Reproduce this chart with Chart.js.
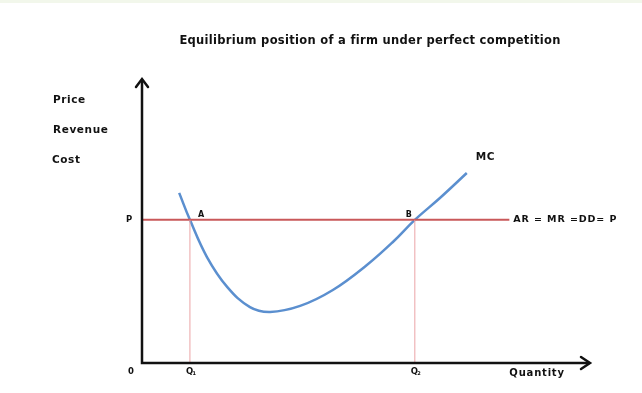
<!DOCTYPE html>
<html>
<head>
<meta charset="utf-8">
<script src="https://cdn.jsdelivr.net/npm/chart.js@4.4.1/dist/chart.umd.min.js"></script>
<style>
  html, body { margin: 0; padding: 0; background: #fff; }
  #wrap { width: 642px; height: 393px; }
</style>
</head>
<body>
<div id="wrap"><canvas id="chart" width="642" height="393"></canvas></div>
<script>
// values (quantity 0..100, price 0..100)
const mcQuantity = [8.3, 10.7, 14.5, 19.0, 24.1, 28.6, 35.3, 42.6, 50.2, 56.0, 60.9, 66.5, 72.5];
const mcCost = [59.9, 50.4, 37.3, 26.8, 19.7, 18.0, 20.1, 25.7, 34.5, 42.6, 50.4, 58.1, 66.9];
const priceLevel = 50.4;
const priceLineEnd = 82;
const q1 = 10.7;
const q2 = 60.9;
const axisMax = [100, 100];

const titleText = 'Equilibrium position of a firm under perfect competition';
const yLabels = ['Price', 'Revenue', 'Cost'];
const priceLabel = 'AR = MR =DD= P';

const mcPoints = mcQuantity.map((q, i) => ({x: q, y: mcCost[i]}));

const FONT = '"DejaVu Sans", "Liberation Sans", sans-serif';

const annotate = {
    id: 'annotate',
    beforeDraw(chart) {
        const ctx = chart.ctx;
        ctx.save();
        ctx.fillStyle = '#ffffff';
        ctx.fillRect(0, 0, chart.width, chart.height);
        ctx.fillStyle = '#f2f7eb';
        ctx.fillRect(0, 0, chart.width, 3);
        ctx.restore();
    },
    afterDraw(chart) {
        const ctx = chart.ctx;
        const area = chart.chartArea;
        const xs = chart.scales.x;
        const ys = chart.scales.y;
        ctx.save();

        // axes with arrow heads
        ctx.strokeStyle = '#111';
        ctx.lineWidth = 2.5;
        ctx.lineCap = 'square';
        ctx.beginPath();
        ctx.moveTo(area.left, area.top + 2);
        ctx.lineTo(area.left, area.bottom);
        ctx.lineTo(area.right - 2, area.bottom);
        ctx.stroke();
        ctx.lineCap = 'round';
        ctx.beginPath();
        ctx.moveTo(area.left - 6, area.top + 8);
        ctx.lineTo(area.left, area.top);
        ctx.lineTo(area.left + 6, area.top + 8);
        ctx.moveTo(area.right - 9, area.bottom - 6);
        ctx.lineTo(area.right, area.bottom);
        ctx.lineTo(area.right - 9, area.bottom + 6);
        ctx.stroke();

        const text = (str, x, y, size, spacing, align) => {
            ctx.font = 'bold ' + size + 'px ' + FONT;
            ctx.letterSpacing = spacing + 'px';
            ctx.textAlign = align || 'left';
            ctx.fillText(str, x, y);
        };

        ctx.fillStyle = '#111';
        ctx.textBaseline = 'middle';
        text(titleText, (area.left + area.right) / 2 + 4, 41, 11.5, 0.3, 'center');

        yLabels.forEach((t, i) => {
            text(t, area.left - 89 - (i === 2 ? 1 : 0), area.top + 21 + i * 30, 10.5, 0.6);
        });

        const pY = ys.getPixelForValue(priceLevel);
        const baseY = area.bottom + 9;
        text('P', area.left - 13, pY, 8.5, 0, 'center');
        text('0', area.left - 11, baseY, 8.5, 0, 'center');

        const drawQ = (x, sub) => {
            text('Q', x - 4, baseY, 8.5, 0);
            text(sub, x + 2.5, baseY + 2, 5, 0);
        };
        drawQ(xs.getPixelForValue(q1), '1');
        drawQ(xs.getPixelForValue(q2), '2');

        text('Quantity', xs.getPixelForValue(82), baseY + 1, 10, 0.8);

        text('A', xs.getPixelForValue(q1) + 8, pY - 5, 8, 0);
        text('B', xs.getPixelForValue(q2) - 9, pY - 5, 8, 0);
        text(priceLabel, xs.getPixelForValue(priceLineEnd) + 4, pY, 9.5, 0.9);

        const last = mcPoints[mcPoints.length - 1];
        text('MC', xs.getPixelForValue(last.x) + 9, ys.getPixelForValue(last.y) - 16, 10.5, 0.6);

        ctx.restore();
    }
};

const chart = new Chart(document.getElementById('chart').getContext('2d'), {
    type: 'scatter',
    data: {
        datasets: [
            {
                label: 'Q1',
                data: [{x: q1, y: 0}, {x: q1, y: priceLevel}],
                showLine: true,
                borderColor: '#eba3a6',
                borderWidth: 1,
                pointRadius: 0
            },
            {
                label: 'Q2',
                data: [{x: q2, y: 0}, {x: q2, y: priceLevel}],
                showLine: true,
                borderColor: '#eba3a6',
                borderWidth: 1,
                pointRadius: 0
            },
            {
                label: 'AR = MR = DD = P',
                data: [{x: 0, y: priceLevel}, {x: priceLineEnd, y: priceLevel}],
                showLine: true,
                borderColor: '#c9585a',
                borderWidth: 2,
                pointRadius: 0
            },
            {
                label: 'MC',
                data: mcPoints,
                showLine: true,
                borderColor: '#5b8fcf',
                borderWidth: 2.5,
                pointRadius: 0,
                tension: 0.4
            }
        ]
    },
    options: {
        responsive: false,
        animation: false,
        layout: {padding: {left: 142, right: 52, top: 79, bottom: 30}},
        scales: {
            x: {type: 'linear', min: 0, max: axisMax[0], display: false},
            y: {type: 'linear', min: 0, max: axisMax[1], display: false}
        },
        plugins: {
            legend: {display: false},
            tooltip: {enabled: false},
            title: {display: false}
        }
    },
    plugins: [annotate]
});
</script>
</body>
</html>
